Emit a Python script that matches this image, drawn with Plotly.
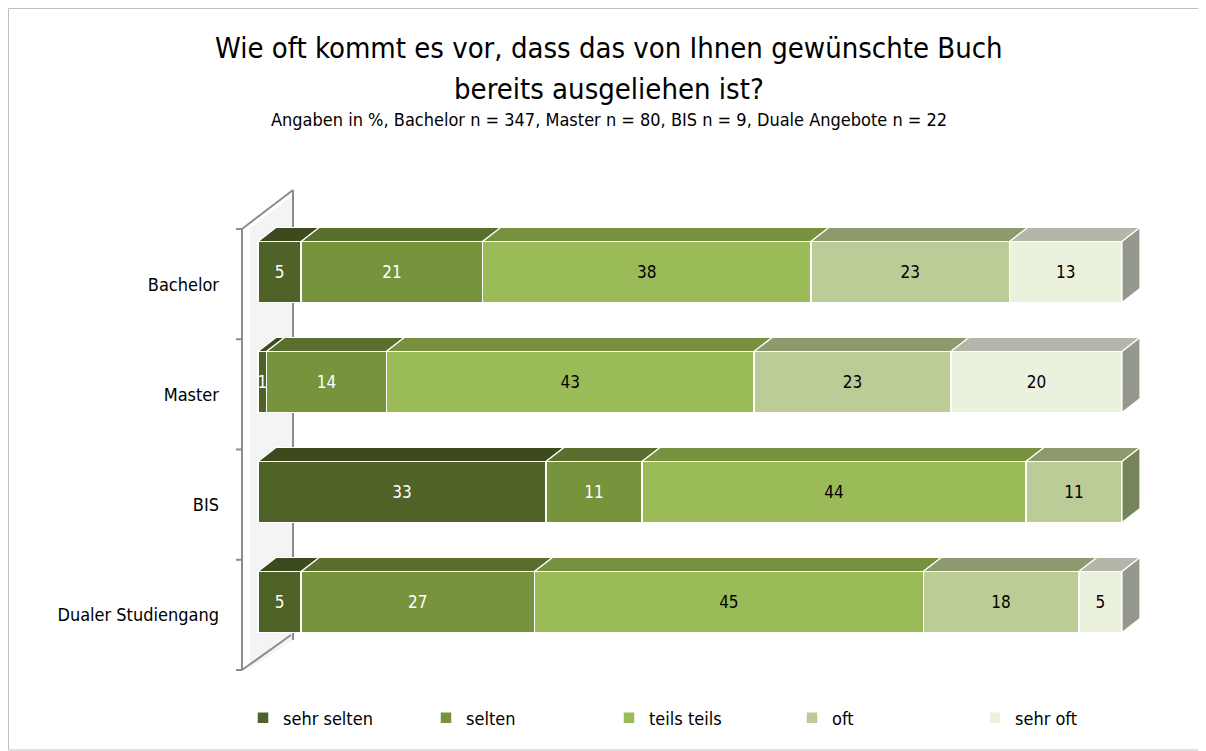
import plotly.graph_objects as go

categories = ["Bachelor", "Master", "BIS", "Dualer Studiengang"]
series_names = ["sehr selten", "selten", "teils teils", "oft", "sehr oft"]
sehr_selten = [5, 1, 33, 5]
selten = [21, 14, 11, 27]
teils_teils = [38, 43, 44, 45]
oft = [23, 23, 11, 18]
sehr_oft = [13, 20, 0, 5]
series_values = [sehr_selten, selten, teils_teils, oft, sehr_oft]

front_colors = ["#4F6228", "#77933C", "#9BBB59", "#BBCC96", "#EAF1DD"]
top_colors = ["#3C4A1E", "#5A6E2E", "#77913F", "#8C9A6E", "#B3B6A8"]
side_colors = ["#2F3A17", "#4A5A25", "#5F7A30", "#76845A", "#95988C"]
text_colors = ["#FFFFFF", "#FFFFFF", "#000000", "#000000", "#000000"]

FONT = "Liberation Sans Narrow, Arial Narrow, DejaVu Sans Condensed, DejaVu Sans, sans-serif"

OFF = 8  # page body margin
W, H = 1206 - OFF, 751 - OFF
L, R, T, B = 238 - OFF, 56, 185 - OFF, 76
PW, PH = W - L - R, H - T - B
# axis ranges (x in percent, y in category units)
XR = [-20 / 8.64, 100 + 28 / 8.64]
YR = [3 + 73 / 110, -87 / 110]
BARW = 0.555
DX = 18 / 8.64
DY = 14 / 110

ypos = list(range(len(categories)))

fig = go.Figure()
for i, (name, vals) in enumerate(zip(series_names, series_values)):
    fig.add_trace(go.Bar(
        name=name, y=ypos, x=vals, orientation="h", width=BARW,
        marker=dict(color=front_colors[i], line=dict(color="#FFFFFF", width=1.5)),
        text=[str(v) if v else "" for v in vals],
        textposition="inside", insidetextanchor="middle",
        textfont=dict(family=FONT, size=17, color=text_colors[i]),
        constraintext="none", hoverinfo="skip",
    ))

shapes = []
# 3D top and side faces derived from the (normalized) data
for j in range(len(categories)):
    total = sum(s[j] for s in series_values)
    cum = 0.0
    last = None
    for i, s in enumerate(series_values):
        v = s[j] / total * 100
        if v <= 0:
            continue
        x0, x1 = cum, cum + v
        cum = x1
        yt = j - BARW / 2
        shapes.append(dict(
            type="path", xref="x", yref="y", layer="above",
            path=f"M {x0},{yt} L {x1},{yt} L {x1+DX},{yt-DY} L {x0+DX},{yt-DY} Z",
            fillcolor=top_colors[i], line=dict(color="#FFFFFF", width=1.2)))
        last = (i, x1)
    i, x1 = last
    yt, yb = j - BARW / 2, j + BARW / 2
    shapes.append(dict(
        type="path", xref="x", yref="y", layer="above",
        path=f"M {x1},{yt} L {x1+DX},{yt-DY} L {x1+DX},{yb-DY} L {x1},{yb} Z",
        fillcolor=side_colors[i], line=dict(color="#FFFFFF", width=1.2)))


def px(x):
    return (x - OFF - L) / PW


def py(y):
    return (H - B - (y - OFF)) / PH


# wall (decoration) in paper coordinates
wall = "#8C8C8C"
shapes += [
    dict(type="path", xref="paper", yref="paper", layer="below",
         path=f"M {px(250)},{py(228)} L {px(293)},{py(195)} L {px(293)},{py(640)} L {px(250)},{py(668)} Z",
         fillcolor="rgba(200,200,200,0.2)", line=dict(width=0)),
    dict(type="line", xref="paper", yref="paper", x0=px(242), y0=py(229), x1=px(242), y1=py(670),
         line=dict(color=wall, width=2)),
    dict(type="line", xref="paper", yref="paper", x0=px(242), y0=py(229), x1=px(293), y1=py(190),
         line=dict(color=wall, width=2)),
    dict(type="line", xref="paper", yref="paper", x0=px(293), y0=py(190), x1=px(293), y1=py(640),
         line=dict(color=wall, width=2), layer="below"),
    dict(type="line", xref="paper", yref="paper", x0=px(242), y0=py(670), x1=px(291), y1=py(635),
         line=dict(color=wall, width=2)),
]
for k in range(5):
    yy = 229 + k * 110.25
    shapes.append(dict(type="line", xref="paper", yref="paper", x0=px(236), y0=py(yy),
                       x1=px(242), y1=py(yy), line=dict(color=wall, width=2)))
# outer chart border
shapes.append(dict(type="rect", xref="paper", yref="paper", x0=px(OFF + 0.5), y0=py(OFF + 0.5),
                   x1=px(1204.5), y1=py(750), line=dict(color="#BFBFBF", width=1)))

annotations = [
    dict(text="Wie oft kommt es vor, dass das von Ihnen gewünschte Buch", x=px(609), y=py(48),
         xref="paper", yref="paper", showarrow=False, xanchor="center", yanchor="middle",
         font=dict(family=FONT, size=29, color="#000000")),
    dict(text="bereits ausgeliehen ist?", x=px(609), y=py(89),
         xref="paper", yref="paper", showarrow=False, xanchor="center", yanchor="middle",
         font=dict(family=FONT, size=29, color="#000000")),
    dict(text="Angaben in %, Bachelor n = 347, Master n = 80, BIS n = 9, Duale Angebote n = 22",
         x=px(609), y=py(120), xref="paper", yref="paper", showarrow=False,
         xanchor="center", yanchor="middle", font=dict(family=FONT, size=18, color="#000000")),
]

fig.update_layout(
    width=W, height=H, barmode="stack", barnorm="percent",
    margin=dict(l=L, r=R, t=T, b=B, autoexpand=False),
    paper_bgcolor="#FFFFFF", plot_bgcolor="rgba(0,0,0,0)",
    shapes=shapes, annotations=annotations, showlegend=True,
    legend=dict(orientation="h", xref="container", yref="container",
                x=(243 - OFF) / W, y=1 - (718 - OFF) / H, xanchor="left", yanchor="middle",
                entrywidth=138, entrywidthmode="pixels", traceorder="normal",
                font=dict(family=FONT, size=18, color="#000000"), itemwidth=30),
    xaxis=dict(range=XR, visible=False, fixedrange=True),
    yaxis=dict(range=YR, tickvals=[p + 13 / 110 for p in ypos], ticktext=categories,
               showgrid=False, zeroline=False, showline=False, ticks="",
               ticklabelstandoff=18, tickfont=dict(family=FONT, size=18, color="#000000")),
)

fig.write_html("out.html")
